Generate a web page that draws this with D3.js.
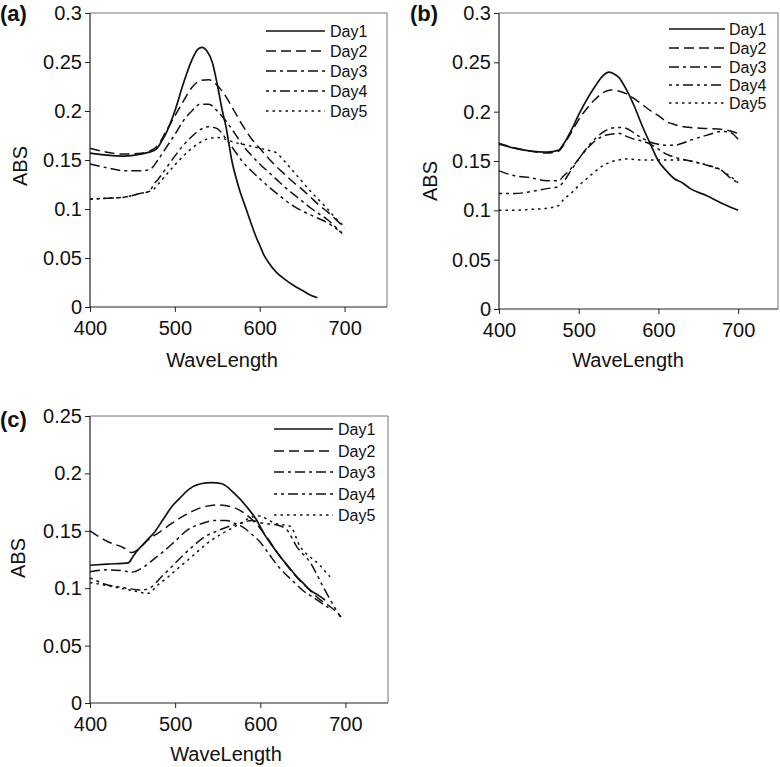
<!DOCTYPE html>
<html>
<head>
<meta charset="utf-8">
<script src="https://cdn.jsdelivr.net/npm/d3@7"></script>
<style>
  html, body { margin: 0; padding: 0; background: #fff; }
  svg { display: block; font-family: "Liberation Sans", Arial, sans-serif; }
</style>
</head>
<body>
<svg id="chart" width="780" height="767"></svg>
<script>
// ---------- DATA ----------
const seriesNames = ["Day1", "Day2", "Day3", "Day4", "Day5"];
const xTicks = [400, 500, 600, 700];
const yTicksAB = [0, 0.05, 0.1, 0.15, 0.2, 0.25, 0.3];
const yTicksC = [0, 0.05, 0.1, 0.15, 0.2, 0.25];

// Panel (a)  [wavelength, ABS]
const aDay1 = [[400,0.157],[420,0.155],[440,0.154],[460,0.156],[470,0.158],[478,0.161],[485,0.17],[490,0.178],[500,0.2],[510,0.228],[520,0.252],[527,0.263],[532,0.265],[538,0.261],[544,0.25],[550,0.227],[556,0.2],[560,0.185],[567,0.15],[575,0.123],[584,0.1],[590,0.085],[595,0.073],[600,0.063],[605,0.053],[610,0.046],[620,0.035],[630,0.028],[640,0.022],[650,0.017],[660,0.012],[668,0.0095]];
const aDay2 = [[400,0.162],[420,0.158],[440,0.156],[460,0.157],[470,0.159],[480,0.165],[490,0.18],[500,0.195],[510,0.21],[520,0.224],[530,0.231],[540,0.232],[550,0.226],[560,0.215],[570,0.2],[580,0.185],[590,0.172],[600,0.162],[610,0.152],[620,0.143],[630,0.135],[640,0.127],[650,0.12],[660,0.112],[670,0.104],[680,0.097],[690,0.089],[700,0.081]];
const aDay3 = [[400,0.146],[420,0.142],[440,0.139],[460,0.139],[470,0.14],[480,0.15],[490,0.163],[500,0.176],[510,0.19],[520,0.2],[530,0.207],[540,0.207],[550,0.2],[560,0.19],[570,0.178],[580,0.165],[590,0.155],[600,0.146],[610,0.138],[620,0.13],[630,0.122],[640,0.115],[650,0.108],[660,0.101],[670,0.095],[680,0.089],[690,0.081],[697,0.075]];
const aDay4 = [[400,0.11],[420,0.111],[440,0.112],[460,0.116],[470,0.118],[475,0.125],[480,0.13],[490,0.142],[500,0.154],[510,0.165],[520,0.174],[530,0.181],[540,0.184],[550,0.182],[560,0.172],[570,0.16],[580,0.148],[590,0.139],[600,0.131],[610,0.123],[620,0.116],[630,0.109],[640,0.103],[650,0.098],[660,0.094],[670,0.09],[680,0.086],[690,0.08],[697,0.076]];
const aDay5 = [[400,0.11],[420,0.111],[440,0.112],[460,0.116],[470,0.118],[475,0.12],[480,0.125],[490,0.135],[500,0.145],[510,0.154],[520,0.162],[530,0.168],[540,0.172],[550,0.173],[560,0.171],[570,0.168],[580,0.166],[590,0.164],[600,0.162],[610,0.16],[620,0.157],[630,0.148],[640,0.138],[650,0.128],[660,0.118],[670,0.109],[680,0.1],[690,0.09],[700,0.082]];

// Panel (b)
const bDay1 = [[400,0.167],[420,0.163],[440,0.16],[460,0.159],[475,0.161],[480,0.166],[490,0.18],[500,0.197],[510,0.212],[520,0.225],[530,0.236],[538,0.24],[545,0.238],[550,0.235],[560,0.222],[570,0.205],[580,0.185],[590,0.167],[600,0.15],[610,0.14],[620,0.132],[630,0.128],[640,0.122],[660,0.115],[680,0.107],[700,0.1]];
const bDay2 = [[400,0.168],[420,0.163],[440,0.16],[460,0.158],[475,0.16],[480,0.165],[490,0.178],[500,0.192],[510,0.203],[520,0.212],[530,0.219],[540,0.222],[550,0.221],[560,0.218],[570,0.213],[580,0.207],[590,0.201],[600,0.196],[610,0.19],[620,0.187],[630,0.185],[640,0.184],[660,0.183],[680,0.182],[700,0.178]];
const bDay3 = [[400,0.14],[420,0.135],[440,0.133],[460,0.13],[475,0.13],[480,0.134],[490,0.142],[500,0.152],[510,0.162],[520,0.17],[530,0.175],[540,0.177],[550,0.178],[560,0.175],[570,0.172],[580,0.17],[590,0.167],[600,0.162],[610,0.157],[620,0.154],[640,0.15],[660,0.146],[680,0.14],[690,0.133],[700,0.128]];
const bDay4 = [[400,0.117],[420,0.117],[440,0.119],[460,0.122],[475,0.124],[480,0.128],[490,0.14],[500,0.152],[510,0.163],[520,0.172],[530,0.179],[540,0.183],[550,0.184],[560,0.183],[570,0.178],[580,0.173],[590,0.169],[600,0.167],[610,0.166],[620,0.166],[630,0.168],[640,0.171],[660,0.176],[680,0.18],[690,0.179],[700,0.172]];
const bDay5 = [[400,0.1],[420,0.1],[440,0.101],[460,0.102],[475,0.105],[480,0.11],[490,0.117],[500,0.125],[510,0.132],[520,0.139],[530,0.145],[540,0.149],[550,0.151],[560,0.152],[580,0.151],[600,0.151],[620,0.151],[630,0.151],[640,0.15],[660,0.146],[680,0.14],[700,0.128]];

// Panel (c)
const cDay1 = [[400,0.12],[420,0.121],[445,0.122],[450,0.127],[456,0.133],[466,0.141],[476,0.149],[486,0.16],[496,0.171],[505,0.178],[515,0.1855],[530,0.191],[543,0.192],[555,0.191],[569,0.183],[584,0.171],[596,0.159],[604,0.148],[614,0.137],[624,0.127],[634,0.118],[643,0.11],[651,0.104],[659,0.098],[668,0.094],[676,0.0897]];
const cDay2 = [[400,0.15],[421,0.1405],[440,0.135],[449,0.131],[460,0.136],[468,0.142],[480,0.148],[496,0.1565],[510,0.163],[523,0.168],[537,0.1715],[551,0.1725],[570,0.17],[580,0.166],[590,0.16],[600,0.152],[610,0.142],[620,0.131],[630,0.121],[640,0.112],[650,0.104],[660,0.097],[670,0.09],[680,0.085],[690,0.079],[695,0.075]];
const cDay3 = [[400,0.1144],[421,0.116],[440,0.115],[449,0.114],[464,0.119],[476,0.126],[488,0.133],[500,0.141],[515,0.151],[530,0.156],[547,0.159],[560,0.159],[570,0.1565],[580,0.153],[590,0.147],[600,0.14],[610,0.13],[620,0.12],[630,0.112],[640,0.105],[650,0.098],[660,0.093],[670,0.088],[680,0.083]];
const cDay4 = [[400,0.109],[420,0.103],[437,0.1008],[460,0.0984],[470,0.1],[484,0.11],[495,0.118],[507,0.127],[520,0.136],[535,0.145],[550,0.15],[562,0.1536],[575,0.156],[590,0.159],[600,0.157],[610,0.156],[620,0.155],[631,0.151],[643,0.136],[659,0.122],[674,0.101],[686,0.085],[694,0.075]];
const cDay5 = [[400,0.105],[429,0.101],[450,0.098],[468,0.0955],[480,0.103],[492,0.11],[503,0.117],[515,0.1246],[528,0.133],[543,0.142],[556,0.148],[570,0.1536],[580,0.158],[590,0.162],[600,0.163],[610,0.159],[620,0.156],[635,0.154],[647,0.136],[659,0.127],[670,0.12],[678,0.113],[682,0.11]];

// ---------- STYLES ----------
const dashes = [null, "10,5", "10,4,3,4", "3,4,3,4,10,4", "2.5,4"];
const lineColor = "#111";

const panels = [
  { label: "(a)", labelX: 0, labelY: 21, left: 90, right: 387, top: 13, bottom: 307, yMax: 0.3, yTicks: yTicksAB,
    series: [aDay1, aDay2, aDay3, aDay4, aDay5],
    absX: 27, absY: 166, wlX: 222, wlY: 367,
    leg: { x1: 266, x2: 325, tx: 330, ys: [31, 51, 71, 91, 111] } },
  { label: "(b)", labelX: 410, labelY: 21, left: 499, right: 778, top: 13, bottom: 309, yMax: 0.3, yTicks: yTicksAB,
    series: [bDay1, bDay2, bDay3, bDay4, bDay5],
    absX: 437, absY: 181, wlX: 628, wlY: 367,
    leg: { x1: 669, x2: 725, tx: 729, ys: [29, 48, 67, 85, 103] } },
  { label: "(c)", labelX: 0, labelY: 427, left: 90, right: 388, top: 416, bottom: 703, yMax: 0.25, yTicks: yTicksC,
    series: [cDay1, cDay2, cDay3, cDay4, cDay5],
    absX: 25, absY: 558, wlX: 226, wlY: 761,
    leg: { x1: 274, x2: 333, tx: 338, ys: [429, 451, 472, 494, 515] } }
];

const svg = d3.select("#chart");

panels.forEach(p => {
  const x = d3.scaleLinear().domain([400, 750]).range([p.left, p.right]);
  const y = d3.scaleLinear().domain([0, p.yMax]).range([p.bottom, p.top]);
  const g = svg.append("g");

  // frame (top & right)
  g.append("path")
    .attr("d", `M${p.left},${p.top}H${p.right}V${p.bottom}`)
    .attr("fill", "none").attr("stroke", "#777").attr("stroke-width", 1);

  // axes
  const yAxis = d3.axisLeft(y).tickValues(p.yTicks).tickSize(5).tickPadding(3)
    .tickFormat(d => d === 0 ? "0" : String(+d.toFixed(2)));
  const gy = g.append("g").attr("transform", `translate(${p.left},0)`).call(yAxis);
  const xAxis = d3.axisBottom(x).tickValues(xTicks).tickSize(5).tickPadding(9).tickFormat(d3.format("d"));
  const gx = g.append("g").attr("transform", `translate(0,${p.bottom})`).call(xAxis);
  [gy, gx].forEach(a => {
    a.select(".domain").attr("stroke", "#222").attr("stroke-width", 1.2);
    a.selectAll(".tick line").attr("stroke", "#222");
    a.selectAll(".tick text").attr("font-size", 20).attr("fill", "#111")
      .attr("font-family", "Liberation Sans, Arial, sans-serif");
  });
  gx.select(".domain").attr("d", `M${p.left},0H${p.right}`);
  gy.select(".domain").attr("d", `M0,${p.bottom}V${p.top}`);

  // lines
  const line = d3.line().x(d => x(d[0])).y(d => y(d[1])).curve(d3.curveMonotoneX);
  p.series.forEach((s, i) => {
    g.append("path").datum(s)
      .attr("d", line)
      .attr("fill", "none")
      .attr("stroke", lineColor)
      .attr("stroke-width", i === 0 ? 1.7 : 1.5)
      .attr("stroke-dasharray", dashes[i]);
  });

  // legend
  seriesNames.forEach((name, i) => {
    const ly = p.leg.ys[i];
    g.append("line").attr("x1", p.leg.x1).attr("x2", p.leg.x2).attr("y1", ly).attr("y2", ly)
      .attr("stroke", lineColor).attr("stroke-width", i === 0 ? 1.7 : 1.5)
      .attr("stroke-dasharray", dashes[i]);
    g.append("text").attr("x", p.leg.tx).attr("y", ly).attr("dy", "0.36em")
      .attr("font-size", 16).attr("fill", "#111").text(name);
  });

  // panel label
  g.append("text").attr("x", p.labelX).attr("y", p.labelY)
    .attr("font-size", 22).attr("font-weight", "bold").attr("fill", "#111").text(p.label);

  // axis titles
  g.append("text")
    .attr("transform", `translate(${p.absX},${p.absY}) rotate(-90)`)
    .attr("text-anchor", "middle").attr("font-size", 20).attr("fill", "#111").text("ABS");
  g.append("text").attr("x", p.wlX).attr("y", p.wlY)
    .attr("text-anchor", "middle").attr("font-size", 20).attr("fill", "#111").text("WaveLength");
});
</script>
</body>
</html>
